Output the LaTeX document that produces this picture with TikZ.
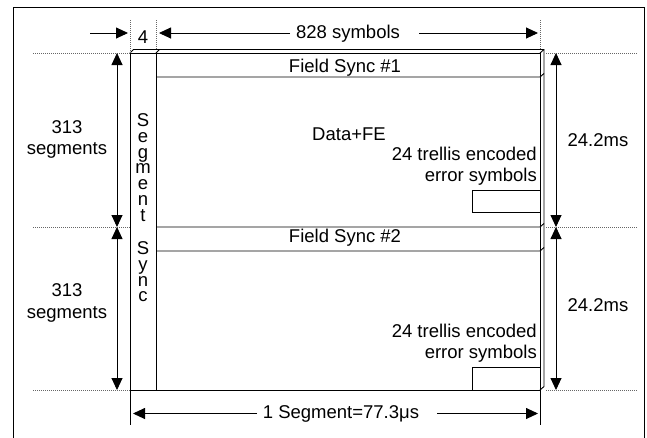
\documentclass[tikz,border=0pt]{standalone}
\usepackage{fontspec}
\setmainfont{Liberation Sans}
\usetikzlibrary{arrows.meta}
\newcommand\tightstackfont{\fontsize{18.5}{15.75}\selectfont\lineskiplimit=-100pt\relax\lineskip=0pt\relax}
\begin{document}
\begin{tikzpicture}[x=1pt,y=-1pt,
  lbl/.style={font=\fontsize{18.5}{21}\selectfont, inner sep=0pt, anchor=base},
  lblr/.style={font=\fontsize{18.5}{21}\selectfont, inner sep=0pt, anchor=base east},
  stack/.style={font=\tightstackfont, inner sep=0pt, anchor=north, align=center},
  tip/.tip={Triangle[length=12pt,width=11pt]},
  dimarrow/.style={line width=0.9pt, -tip},
  dimboth/.style={line width=0.9pt, tip-tip},
  guide/.style={line width=0.6pt, black!60, dash pattern=on 1pt off 1pt},
  edge/.style={line width=0.9pt}]
\useasboundingbox (0,0) rectangle (647,437);
% outer frame
\draw[edge] (13,440) -- (13,7) -- (644,7) -- (644,440);
% key points
\coordinate (TL) at (130,53);
\coordinate (TS) at (156,53);
\coordinate (TR) at (540,53);
\coordinate (BL) at (130,390);
\coordinate (BS) at (156,390);
\coordinate (BR) at (540,390);
\coordinate (F1b) at (156,77);
\coordinate (F1bR) at (540,77);
\coordinate (F2t) at (156,227);
\coordinate (F2tR) at (540,227);
\coordinate (F2b) at (156,251);
\coordinate (F2bR) at (540,251);
% main block
\draw[edge] (TL) -- (TR) -- (BR) -- (BL) -- cycle;
\draw[edge] (TS) -- (BS);
\draw[edge] (F1b) -- (F1bR) -- ++(4,-3.5);
\draw[edge] (F2t) -- (F2tR) -- ++(4,-3.5);
\draw[edge] (F2b) -- (F2bR) -- ++(4,-3.5);
% 3D faces
\draw[edge] (TL) -- ++(3.5,-3.5) -- (544,49.5) -- (544,386.5) -- (BR);
\draw[edge] (TS) -- ++(3.5,-3.5);
\draw[edge] (TR) -- ++(4,-3.5);
% small boxes
\draw[edge] (472,190) rectangle (540,212);
\draw[edge] (472,367) rectangle (540,390);
% extension lines
\draw[edge] (BL) -- (130,425);
\draw[edge] (BR) -- (540,425);
% dotted guides
\draw[guide] (33,53) -- (TL);
\draw[guide] (546,53) -- (637,53);
\draw[guide] (33,227) -- (130,227);
\draw[guide] (546,227) -- (637,227);
\draw[guide] (33,390) -- (BL);
\draw[guide] (546,390) -- (637,390);
\draw[guide] (130,20) -- (TL);
\draw[guide] (156,20) -- (156,50);
\draw[guide] (540,20) -- (540,50);
% dimension arrows
\coordinate (L1) at (117,53);
\coordinate (L2) at (117,227);
\coordinate (L3) at (117,390);
\coordinate (R1) at (556,53);
\coordinate (R2) at (556,227);
\coordinate (R3) at (556,390);
\draw[dimboth] (L1) -- (L2);
\draw[dimboth] (L2) -- (L3);
\draw[dimboth] (R1) -- (R2);
\draw[dimboth] (R2) -- (R3);
\coordinate (A4s) at (90,33);
\coordinate (A4e) at (128,33);
\coordinate (A8a) at (290,33);
\coordinate (A8b) at (159,33);
\coordinate (A8c) at (419,33);
\coordinate (A8d) at (538,33);
\draw[dimarrow] (A4s) -- (A4e);
\draw[dimarrow] (A8a) -- (A8b);
\draw[dimarrow] (A8c) -- (A8d);
\coordinate (S1a) at (257,413.5);
\coordinate (S1b) at (133,413.5);
\coordinate (S1c) at (437,413.5);
\coordinate (S1d) at (538,413.5);
\draw[dimarrow] (S1a) -- (S1b);
\draw[dimarrow] (S1c) -- (S1d);
% labels
\node[lbl] (four) at (143,43) {4};
\node[lbl] (sym) at (348,38) {828 symbols};
\node[lbl] (fs1) at (345,72) {Field Sync \#1};
\node[lbl] (data) at (349,140) {Data+FE};
\node[lblr] (tr1a) at (537,160) {24 trellis encoded};
\node[lblr] (tr1b) at (537,181) {error symbols};
\node[lbl] (fs2) at (345,242) {Field Sync \#2};
\node[lblr] (tr2a) at (537,337) {24 trellis encoded};
\node[lblr] (tr2b) at (537,358) {error symbols};
\node[lbl] (ms1) at (598,146) {24.2ms};
\node[lbl] (ms2) at (598,311) {24.2ms};
\node[lbl] (n1a) at (67,133) {313};
\node[lbl] (n1b) at (67,154) {segments};
\node[lbl] (n2a) at (67,296) {313};
\node[lbl] (n2b) at (67,318) {segments};
\node[lbl] (seglen) at (341,418) {1 Segment=77.3μs};
\node[stack] (segword) at (143,113.5) {S\\e\\g\\m\\e\\n\\t};
\node[stack] (syncword) at (143,241.5) {S\\y\\n\\c};
\end{tikzpicture}
\end{document}
